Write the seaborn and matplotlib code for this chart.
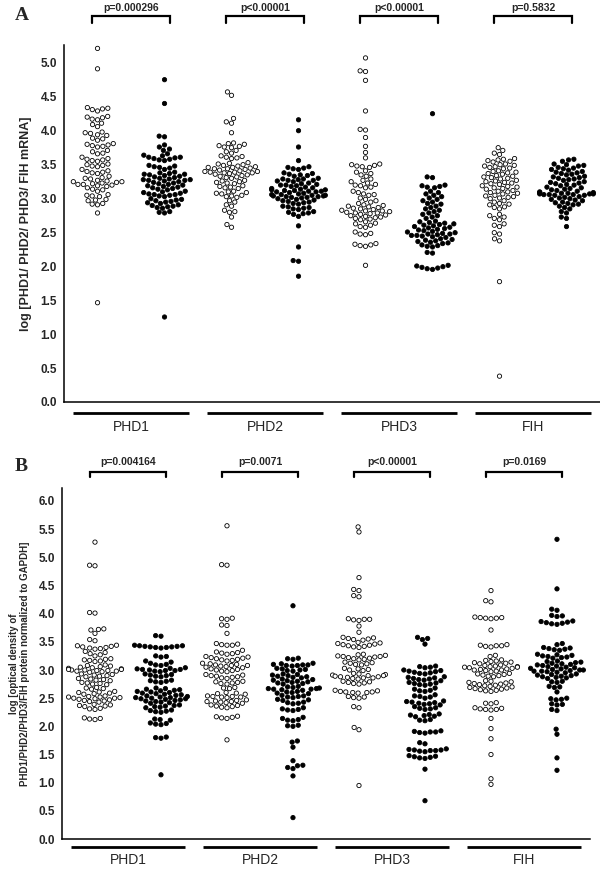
import pandas as pd
import seaborn as sns
import matplotlib.pyplot as plt

genes = ["PHD1", "PHD2", "PHD3", "FIH"]

# panel A: log mRNA, open = first sample set, filled = second sample set
a_phd1_open = [5.20, 4.90, 4.33, 4.32, 4.31, 4.30, 4.28, 4.20, 4.19, 4.18, 4.16, 4.15, 4.10, 4.08, 4.05,
               3.97, 3.96, 3.95, 3.93, 3.92, 3.88, 3.87, 3.85, 3.80, 3.79, 3.78, 3.77, 3.76, 3.75,
               3.70, 3.68, 3.66, 3.65, 3.60, 3.58, 3.57, 3.56, 3.55, 3.54, 3.50, 3.49, 3.48, 3.47, 3.46,
               3.42, 3.40, 3.39, 3.38, 3.37, 3.36, 3.32, 3.30, 3.29, 3.28,
               3.26, 3.25, 3.24, 3.23, 3.22, 3.21, 3.20, 3.19, 3.18, 3.17, 3.24, 3.20,
               3.15, 3.13, 3.12, 3.10, 3.05, 3.04, 3.03, 3.02, 2.98, 2.97, 2.96, 2.92, 2.91, 2.90,
               2.78, 1.46]
a_phd1_fill = [4.74, 4.39, 3.91, 3.90, 3.78, 3.75, 3.72, 3.70,
               3.65, 3.63, 3.62, 3.60, 3.60, 3.59, 3.58, 3.57, 3.56, 3.55,
               3.48, 3.47, 3.46, 3.45, 3.44, 3.42, 3.38, 3.37, 3.36, 3.35, 3.35, 3.34, 3.33, 3.32, 3.31, 3.30,
               3.29, 3.28, 3.27, 3.27, 3.26, 3.26, 3.25, 3.24, 3.23, 3.22, 3.21, 3.20,
               3.19, 3.18, 3.17, 3.16, 3.15, 3.14, 3.13, 3.12,
               3.10, 3.09, 3.08, 3.07, 3.06, 3.05, 3.05, 3.04, 3.03, 3.02,
               2.99, 2.98, 2.97, 2.96, 2.95, 2.94, 2.93, 2.92, 2.90, 2.89, 2.88, 2.87, 2.86, 2.85,
               2.80, 2.79, 2.78, 1.25]
a_phd2_open = [4.56, 4.51, 4.17, 4.12, 4.10, 3.96, 3.81, 3.80, 3.79, 3.77, 3.76, 3.75, 3.74,
               3.70, 3.68, 3.66, 3.62, 3.61, 3.60, 3.59, 3.58, 3.52, 3.51, 3.50, 3.49, 3.48, 3.47,
               3.46, 3.45, 3.45, 3.44, 3.43, 3.43, 3.42, 3.41,
               3.40, 3.39, 3.39, 3.38, 3.38, 3.37, 3.37, 3.36, 3.35, 3.34,
               3.33, 3.32, 3.31, 3.30, 3.29, 3.26, 3.25, 3.24, 3.23, 3.22, 3.21,
               3.18, 3.17, 3.16, 3.15, 3.14, 3.10, 3.09, 3.08, 3.07, 3.06, 3.04, 3.03, 3.02, 3.01,
               2.96, 2.94, 2.90, 2.88, 2.82, 2.80, 2.79, 2.72, 2.61, 2.57]
a_phd2_fill = [4.15, 3.99, 3.75, 3.55, 3.46, 3.45, 3.44, 3.43, 3.42,
               3.37, 3.36, 3.35, 3.34, 3.33, 3.32, 3.29, 3.28, 3.28, 3.27, 3.26, 3.26, 3.25, 3.24,
               3.22, 3.21, 3.20, 3.19, 3.19, 3.18, 3.17, 3.16, 3.15, 3.14,
               3.13, 3.12, 3.12, 3.11, 3.11, 3.10, 3.10, 3.09, 3.09, 3.08, 3.07, 3.06,
               3.05, 3.05, 3.04, 3.04, 3.03, 3.03, 3.02, 3.02, 3.01, 3.01, 3.00, 2.99,
               2.98, 2.97, 2.96, 2.95, 2.94, 2.93, 2.92, 2.91, 2.88, 2.87, 2.86, 2.85, 2.84, 2.83,
               2.80, 2.79, 2.78, 2.77, 2.76, 2.73, 2.59, 2.28, 2.08, 2.07, 1.85]
a_phd3_open = [5.06, 4.87, 4.86, 4.73, 4.28, 4.01, 4.00, 3.89, 3.76, 3.67, 3.59,
               3.50, 3.49, 3.48, 3.47, 3.46, 3.45, 3.40, 3.38, 3.36, 3.34, 3.32,
               3.28, 3.26, 3.24, 3.22, 3.20, 3.19, 3.18, 3.16, 3.15, 3.10, 3.08, 3.06, 3.05, 3.04,
               3.00, 2.98, 2.96, 2.94, 2.92, 2.90, 2.89, 2.88, 2.87, 2.86, 2.85,
               2.84, 2.83, 2.82, 2.81, 2.80, 2.79, 2.78, 2.77, 2.76, 2.75, 2.81, 2.78,
               2.74, 2.73, 2.72, 2.71, 2.70, 2.69, 2.68, 2.65, 2.63, 2.62, 2.60, 2.58, 2.57,
               2.50, 2.48, 2.47, 2.46, 2.33, 2.31, 2.30, 2.29, 2.32, 2.01]
a_phd3_fill = [4.24, 3.31, 3.30, 3.19, 3.18, 3.17, 3.16, 3.15, 3.10, 3.08, 3.06, 3.04, 3.02,
               3.00, 2.98, 2.96, 2.94, 2.92, 2.91, 2.88, 2.86, 2.84, 2.82, 2.80,
               2.78, 2.76, 2.74, 2.72, 2.70, 2.66, 2.65, 2.64, 2.63, 2.62, 2.61, 2.60,
               2.59, 2.58, 2.57, 2.56, 2.55, 2.54, 2.53, 2.52, 2.51, 2.50,
               2.49, 2.48, 2.47, 2.47, 2.46, 2.45, 2.45, 2.44, 2.43, 2.42,
               2.40, 2.39, 2.38, 2.37, 2.36, 2.35, 2.34, 2.33, 2.31, 2.30, 2.29, 2.28,
               2.20, 2.19, 2.01, 2.00, 1.99, 1.98, 1.97, 1.96, 1.95]
a_fih_open = [3.74, 3.70, 3.66, 3.64, 3.58, 3.57, 3.56, 3.55, 3.54, 3.53,
              3.50, 3.49, 3.48, 3.47, 3.46, 3.45, 3.44, 3.43, 3.40, 3.39, 3.38, 3.37, 3.36, 3.35,
              3.33, 3.32, 3.31, 3.30, 3.29, 3.28, 3.26, 3.25, 3.24, 3.23, 3.22, 3.21, 3.20,
              3.18, 3.17, 3.16, 3.15, 3.14, 3.13, 3.11, 3.10, 3.09, 3.08, 3.07, 3.06,
              3.04, 3.03, 3.02, 3.01, 3.00, 2.99, 2.96, 2.94, 2.92, 2.91, 2.90, 2.87, 2.86, 2.84,
              2.76, 2.74, 2.72, 2.70, 2.68, 2.62, 2.60, 2.58, 2.49, 2.47, 2.40, 2.37, 1.77, 0.38]
a_fih_fill = [3.57, 3.56, 3.54, 3.50, 3.49, 3.48, 3.47, 3.45, 3.44, 3.43, 3.42, 3.41,
              3.39, 3.38, 3.37, 3.36, 3.35, 3.34, 3.32, 3.31, 3.30, 3.29, 3.28, 3.27, 3.26,
              3.24, 3.23, 3.22, 3.21, 3.20, 3.19, 3.18, 3.16, 3.15, 3.14, 3.13, 3.12, 3.11, 3.10,
              3.09, 3.08, 3.08, 3.07, 3.07, 3.06, 3.06, 3.06, 3.05, 3.05, 3.05, 3.04, 3.04,
              3.02, 3.01, 3.00, 2.99, 2.98, 2.97, 2.96, 2.94, 2.93, 2.92, 2.91, 2.90,
              2.88, 2.86, 2.84, 2.80, 2.78, 2.72, 2.70, 2.58]

# panel B: log optical density of protein / GAPDH
b_phd1_open = [5.27, 4.86, 4.85, 4.02, 4.01, 3.73, 3.72, 3.71, 3.65, 3.54, 3.52,
               3.44, 3.43, 3.42, 3.41, 3.40, 3.39, 3.38, 3.37, 3.33, 3.31, 3.29, 3.27, 3.25,
               3.20, 3.19, 3.18, 3.17, 3.16, 3.15, 3.09, 3.08, 3.07, 3.06, 3.05, 3.04,
               3.03, 3.02, 3.01, 3.00, 3.00, 2.99, 2.99, 2.98, 2.97, 2.96, 3.01, 2.98,
               2.93, 2.92, 2.91, 2.90, 2.89, 2.88, 2.85, 2.84, 2.83, 2.82, 2.81,
               2.78, 2.77, 2.76, 2.75, 2.74, 2.69, 2.68, 2.67, 2.66, 2.62, 2.61, 2.60, 2.59, 2.58, 2.57,
               2.54, 2.53, 2.52, 2.51, 2.50, 2.49, 2.48, 2.47, 2.52, 2.50, 2.46, 2.45, 2.44, 2.43,
               2.39, 2.38, 2.37, 2.36, 2.35, 2.32, 2.31, 2.30, 2.15, 2.14, 2.13, 2.12]
b_phd1_fill = [3.61, 3.60, 3.44, 3.43, 3.43, 3.42, 3.42, 3.41, 3.41, 3.40, 3.40, 3.39,
               3.25, 3.24, 3.23, 3.16, 3.14, 3.12, 3.10, 3.09, 3.08,
               3.04, 3.03, 3.02, 3.01, 3.00, 2.99, 2.98, 2.97, 3.01, 2.99,
               2.93, 2.92, 2.91, 2.90, 2.89, 2.88, 2.82, 2.81, 2.80, 2.79, 2.78,
               2.68, 2.67, 2.66, 2.65, 2.64, 2.63, 2.62, 2.61, 2.60, 2.59, 2.58, 2.57, 2.56, 2.55,
               2.54, 2.53, 2.52, 2.51, 2.50, 2.49, 2.48, 2.47, 2.51, 2.49,
               2.46, 2.45, 2.44, 2.43, 2.42, 2.41, 2.38, 2.37, 2.36, 2.35, 2.34, 2.33,
               2.29, 2.28, 2.27, 2.26, 2.25, 2.13, 2.12, 2.11, 2.06, 2.05, 2.04, 2.03,
               1.81, 1.80, 1.79, 1.14]
b_phd2_open = [5.56, 4.87, 4.86, 3.92, 3.91, 3.90, 3.80, 3.79, 3.65, 3.47, 3.46, 3.45, 3.44, 3.44,
               3.35, 3.32, 3.31, 3.30, 3.29, 3.28, 3.24, 3.23, 3.22, 3.21, 3.20, 3.19, 3.18, 3.17, 3.16,
               3.12, 3.11, 3.10, 3.09, 3.08, 3.08, 3.07, 3.06, 3.05, 3.04, 3.02, 3.01, 3.00, 2.99, 2.98, 2.97,
               2.92, 2.91, 2.90, 2.89, 2.88, 2.87, 2.86, 2.85, 2.80, 2.79, 2.78, 2.77, 2.76, 2.75,
               2.69, 2.68, 2.67, 2.60, 2.59, 2.58, 2.57, 2.54, 2.53, 2.53, 2.52, 2.52, 2.51,
               2.47, 2.46, 2.45, 2.44, 2.44, 2.43, 2.42, 2.41, 2.38, 2.37, 2.36, 2.35, 2.34, 2.33,
               2.18, 2.17, 2.16, 2.15, 2.14, 1.76]
b_phd2_fill = [4.14, 3.21, 3.20, 3.19, 3.12, 3.11, 3.10, 3.09, 3.09, 3.08, 3.08, 3.07,
               3.03, 3.02, 3.01, 3.00, 2.99, 2.98, 2.93, 2.92, 2.91, 2.90, 2.89, 2.88, 2.87, 2.86,
               2.84, 2.83, 2.82, 2.81, 2.80, 2.79, 2.78, 2.77, 2.76, 2.75,
               2.71, 2.70, 2.69, 2.68, 2.67, 2.67, 2.66, 2.66, 2.65, 2.64,
               2.62, 2.61, 2.60, 2.59, 2.58, 2.55, 2.54, 2.53, 2.52, 2.51, 2.48, 2.47, 2.46,
               2.43, 2.42, 2.41, 2.40, 2.33, 2.31, 2.30, 2.29, 2.28, 2.16, 2.14, 2.12, 2.11, 2.10,
               2.02, 2.01, 2.00, 1.74, 1.72, 1.63, 1.39, 1.31, 1.30, 1.27, 1.25, 1.12, 0.38]
b_phd3_open = [5.54, 5.45, 4.64, 4.43, 4.41, 4.32, 4.30, 3.91, 3.90, 3.90, 3.89, 3.88, 3.78, 3.67,
               3.58, 3.57, 3.56, 3.55, 3.54, 3.53, 3.49, 3.48, 3.47, 3.46, 3.45, 3.44, 3.43, 3.42, 3.41, 3.40,
               3.28, 3.27, 3.26, 3.25, 3.24, 3.24, 3.23, 3.22, 3.21, 3.20, 3.19, 3.18,
               3.14, 3.13, 3.12, 3.11, 3.10, 3.09, 3.03, 3.02, 3.01, 3.00, 2.99,
               2.94, 2.93, 2.92, 2.91, 2.90, 2.89, 2.88, 2.87, 2.86, 2.85, 2.84, 2.90, 2.88, 2.86,
               2.80, 2.79, 2.78, 2.77, 2.76, 2.75, 2.64, 2.63, 2.62, 2.61, 2.61, 2.60, 2.60, 2.59,
               2.53, 2.52, 2.51, 2.50, 2.35, 2.33, 1.98, 1.94, 0.95]
b_phd3_fill = [3.58, 3.56, 3.54, 3.46, 3.07, 3.06, 3.05, 3.04,
               3.00, 2.99, 2.98, 2.97, 2.96, 2.95, 2.94, 2.93, 2.88, 2.87, 2.86, 2.85, 2.84, 2.83, 2.82, 2.81,
               2.78, 2.77, 2.76, 2.75, 2.74, 2.73, 2.68, 2.66, 2.64, 2.63, 2.62, 2.56, 2.54, 2.53, 2.52, 2.50,
               2.45, 2.44, 2.43, 2.42, 2.41, 2.40, 2.39, 2.38, 2.35, 2.33, 2.32, 2.31, 2.30,
               2.22, 2.21, 2.20, 2.19, 2.18, 2.17, 2.12, 2.11, 2.10,
               1.92, 1.91, 1.90, 1.90, 1.89, 1.88, 1.71, 1.69,
               1.60, 1.59, 1.58, 1.58, 1.57, 1.57, 1.56, 1.55, 1.48, 1.47, 1.46, 1.45, 1.44, 1.43,
               1.24, 0.68]
b_fih_open = [4.41, 4.23, 4.21, 3.94, 3.93, 3.93, 3.92, 3.92, 3.91, 3.71,
              3.45, 3.44, 3.43, 3.43, 3.42, 3.41, 3.26, 3.24,
              3.18, 3.17, 3.16, 3.15, 3.14, 3.13, 3.12, 3.11,
              3.09, 3.08, 3.07, 3.06, 3.06, 3.05, 3.05, 3.04, 3.03, 3.02, 3.01, 3.00, 3.00, 2.99, 2.98, 2.97,
              2.94, 2.93, 2.92, 2.91, 2.90, 2.89, 2.88,
              2.81, 2.80, 2.79, 2.78, 2.77, 2.76, 2.75, 2.74, 2.73, 2.72, 2.71,
              2.70, 2.69, 2.68, 2.67, 2.66, 2.65, 2.64, 2.63, 2.62,
              2.42, 2.41, 2.40, 2.33, 2.32, 2.31, 2.30, 2.30, 2.29,
              2.14, 1.96, 1.78, 1.50, 1.07, 0.97]
b_fih_fill = [5.32, 4.44, 4.08, 4.06, 3.97, 3.96, 3.95, 3.87, 3.86, 3.85, 3.84, 3.83, 3.82, 3.81,
              3.47, 3.45, 3.40, 3.39, 3.38, 3.37, 3.36, 3.35,
              3.28, 3.27, 3.26, 3.25, 3.24, 3.23, 3.22, 3.21,
              3.16, 3.15, 3.14, 3.13, 3.12, 3.11, 3.10, 3.09, 3.08, 3.07, 3.06, 3.05,
              3.04, 3.03, 3.02, 3.01, 3.00, 2.99, 2.98, 2.97, 2.96, 2.95, 3.00, 2.98,
              2.93, 2.92, 2.91, 2.90, 2.89, 2.88, 2.87, 2.86, 2.85,
              2.80, 2.79, 2.78, 2.71, 2.70, 2.69, 2.61, 2.50, 2.49, 2.48, 2.47,
              2.40, 2.39, 2.38, 2.30, 2.28, 1.95, 1.86, 1.44, 1.22]

p_a = ["p=0.000296", "p<0.00001", "p<0.00001", "p=0.5832"]
p_b = ["p=0.004164", "p=0.0071", "p<0.00001", "p=0.0169"]

panel_a = [a_phd1_open, a_phd1_fill, a_phd2_open, a_phd2_fill,
           a_phd3_open, a_phd3_fill, a_fih_open, a_fih_fill]
panel_b = [b_phd1_open, b_phd1_fill, b_phd2_open, b_phd2_fill,
           b_phd3_open, b_phd3_fill, b_fih_open, b_fih_fill]


def make_df(groups):
    rows = []
    for i, vals in enumerate(groups):
        kind = "open" if i % 2 == 0 else "filled"
        for v in vals:
            rows.append({"grp": f"g{i}", "kind": kind, "value": v})
    return pd.DataFrame(rows)


sns.set_style("white")
plt.rcParams["font.family"] = ["Liberation Sans", "DejaVu Sans"]

fig = plt.figure(figsize=(6, 8.69), dpi=100)
ax_a = fig.add_axes([0.1067, 0.5374, 0.8933, 0.4108])
ax_b = fig.add_axes([0.1033, 0.0345, 0.88, 0.4039])

order = [f"g{i}" for i in range(8)]
pal = {"open": "white", "filled": "black"}

setup = [
    (ax_a, panel_a, p_a, 5.25, 5.0, "log [PHD1/ PHD2/ PHD3/ FIH mRNA]", 9,
     (5.57, 5.68, 5.80), (-0.16, -0.37), "A", 0.992),
    (ax_b, panel_b, p_b, 6.23, 6.0,
     "log [optical density of\nPHD1/PHD2/PHD3/FIH protein normalized to GAPDH]", 7,
     (6.43, 6.52, 6.69), (-0.14, -0.37), "B", 0.473),
]

for ax, groups, pvals, ytop, ymax, ylab, ylab_fs, brk, glines, letter, letter_y in setup:
    df = make_df(groups)
    sns.swarmplot(data=df, x="grp", y="value", hue="kind", order=order, palette=pal,
                  size=3.1, edgecolor="black", linewidth=0.6, legend=False,
                  warn_thresh=1.0, ax=ax)
    ax.set_xlim(-0.5, 7.5)
    ax.set_ylim(0, ytop)
    ticks = [i * 0.5 for i in range(int(ymax * 2) + 1)]
    ax.set_yticks(ticks)
    ax.set_yticklabels([f"{t:.1f}" for t in ticks], fontweight="bold", fontsize=8.5)
    ax.set_xticks([])
    ax.set_xlabel("")
    ax.set_ylabel(ylab, fontsize=ylab_fs, fontweight="bold", labelpad=6)
    for s in ["top", "right"]:
        ax.spines[s].set_visible(False)
    for s in ["left", "bottom"]:
        ax.spines[s].set_linewidth(1.1)
        ax.spines[s].set_color("black")
    ax.tick_params(axis="y", direction="out", length=3, width=1, color="black", pad=2)

    # significance brackets
    for k, p in enumerate(pvals):
        x0 = 2 * k - 0.08
        x1 = 2 * k + 1 + 0.08
        ax.plot([x0, x0, x1, x1], [brk[0], brk[1], brk[1], brk[0]], color="black",
                lw=1.6, clip_on=False, solid_joinstyle="miter")
        ax.text((x0 + x1) / 2, brk[2], p, ha="center", va="center", fontsize=7.5,
                fontweight="bold")

    # gene group lines under the axis
    for k, g in enumerate(genes):
        c = 2 * k + 0.5
        ax.plot([c - 0.87, c + 0.87], [glines[0], glines[0]], color="black", lw=2,
                clip_on=False, solid_capstyle="butt")
        ax.text(c, glines[1], g, ha="center", va="center", fontsize=10)

    fig.text(0.025, letter_y, letter, fontsize=14, fontweight="bold",
             family="Liberation Serif", va="top", ha="left")

fig.savefig("out.png", dpi=100)
